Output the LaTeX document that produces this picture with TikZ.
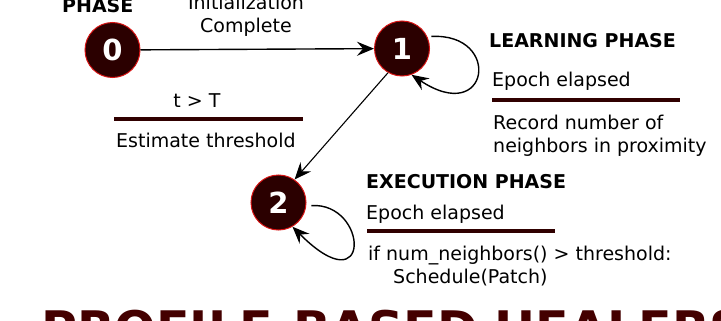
\documentclass[tikz,border=0pt]{standalone}
\usepackage{fontspec}
\setmainfont{DejaVu Sans}
\usetikzlibrary{positioning}
\usetikzlibrary{arrows.meta}

\definecolor{phasefill}{RGB}{43,0,0}
\definecolor{phaseedge}{RGB}{215,20,20}
\definecolor{barred}{RGB}{48,0,0}
\definecolor{titlered}{RGB}{68,0,0}

\begin{document}
\begin{tikzpicture}[x=1pt, y=-1pt,
  phase/.style={circle, draw=phaseedge, line width=1pt, fill=phasefill,
    text=white, minimum size=55pt, inner sep=0pt,
    font=\fontsize{29}{29}\selectfont\bfseries},
  txt/.style={anchor=base west, inner sep=0pt, font=\fontsize{19}{23}\selectfont},
  head/.style={anchor=base west, inner sep=0pt, font=\fontsize{19}{23}\selectfont\bfseries},
  bar/.style={line width=4pt, draw=barred},
  trans/.style={-{Stealth[length=17pt, width=14pt, inset=6pt]}, line width=1.4pt}]
  \useasboundingbox (0,0) rectangle (721,321);
  \clip (0,0) rectangle (721,321);

  % Phases
  \node[phase] (n0) at (112.5,50) {0};
  \node[phase] (n1) at (402,48.5) {1};
  \node[phase] (n2) at (278.5,202.5) {2};

  % Init phase
  \node[head] (ph0) at (62,12.5) {PHASE};
  \node[txt, anchor=base] (init) at (246,10) {Initialization};
  \node[txt, anchor=base] (compl) at (246,33) {Complete};
  \draw[trans] (n0) -- (n1);

  % Learning phase
  \node[head] (lh) at (489,48) {LEARNING PHASE};
  \node[txt] (le) at (492,87) {Epoch elapsed};
  \draw[bar] (492,100) -- (680,100);
  \node[txt] (rec1) at (493,129) {Record number of};
  \node[txt] (rec2) at (493,152) {neighbors in proximity};
  \draw[trans, shorten <=4pt] (n1.25) .. controls +(75,-4) and +(78,52) .. (n1.-70);

  % Learning -> execution
  \node[txt, anchor=base] (cond) at (197,107) {t > T};
  \draw[bar] (114,119) -- (303,119);
  \node[txt] (est) at (116,147) {Estimate threshold};
  \draw[trans, line width=1.1pt] (n1.240) -- (n2.55);

  % Execution phase
  \node[head] (eh) at (366,188) {EXECUTION PHASE};
  \node[txt] (ee) at (366,219) {Epoch elapsed};
  \draw[bar] (367,231) -- (555,231);
  \node[txt] (if) at (368,260) {if num\_neighbors() > threshold:};
  \node[txt] (sch) at (393,283) {Schedule(Patch)};
  \draw[trans, shorten <=5pt] (n2.-7) .. controls +(62,-4) and +(80,80) .. (n2.-60);

  % Title
  \node[anchor=base west, inner sep=0pt, text=titlered,
    font=\fontsize{49}{49}\selectfont\bfseries] (title) at (41,346) {PROFILE-BASED HEALERS};
\end{tikzpicture}
\end{document}
